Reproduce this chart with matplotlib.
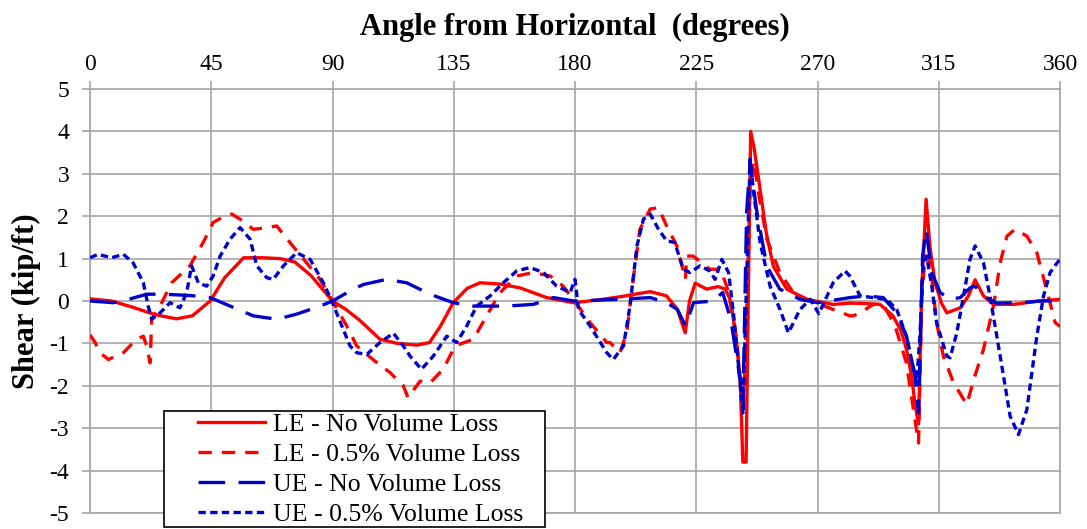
import matplotlib
matplotlib.use("Agg")
import matplotlib.pyplot as plt
from matplotlib.patches import Rectangle

plt.rcParams['font.family'] = ['Liberation Serif', 'DejaVu Serif']
plt.rcParams['axes.unicode_minus'] = False

# LE - No Volume Loss
le_nv_x = [0, 8, 16, 24, 32, 38, 44.6, 50, 57, 64, 70.6, 76, 82, 90, 95, 100, 107.6, 114, 121.3, 126, 130, 134.8,
           140, 144.8, 152, 159.6, 169.5, 179.4, 188, 196.7, 204, 208, 214, 218, 220.9, 222.5, 224.6, 228.9, 233.1,
           235.7, 237.5, 238.8, 240, 241.3, 242.3, 243.5, 244.4, 245.2, 246.5, 248.7, 251, 253.6, 258.6, 266, 275.8,
           282, 288, 293.2, 298, 301, 303.1, 305, 306.2, 307.5, 308.7, 310.3, 311.8, 313.6, 316, 318, 323, 326,
           328.5, 331.6, 335.3, 342.7, 352.6, 360]
le_nv_y = [0.05, 0.0, -0.15, -0.32, -0.42, -0.35, 0.0, 0.55, 1.02, 1.02, 1.0, 0.92, 0.6, 0.0, -0.2, -0.45, -0.9,
           -1.0, -1.04, -0.98, -0.6, -0.04, 0.3, 0.43, 0.4, 0.31, 0.08, -0.04, 0.02, 0.1, 0.18, 0.22, 0.12, -0.2,
           -0.75, 0.0, 0.42, 0.28, 0.34, 0.28, 0.05, -0.43, -1.0, -1.85, -3.8, -3.8, 0.5, 4.0, 3.6, 2.63, 1.6, 0.82,
           0.28, 0.04, -0.08, -0.05, -0.06, -0.08, -0.35, -0.7, -1.16, -1.8, -2.44, -2.9, 0.28, 2.4, 1.24, 0.44,
           -0.05, -0.28, -0.16, 0.12, 0.5, 0.12, -0.08, -0.08, 0.0, 0.04]

# LE - 0.5% Volume Loss
le_vl_x = [0, 1.9, 3.7, 6.8, 12.4, 17.3, 19.8, 21, 22.3, 22.9, 26, 30.3, 37.1, 42, 45.7, 49, 52.6, 55.7, 60.6, 65.6,
           69.3, 74.2, 80.4, 85.4, 90, 95.3, 99, 105, 111.4, 116.3, 118, 122.5, 126.2, 131.1, 135.5, 142.3, 147.2,
           152.2, 158.4, 164.5, 170.8, 175.6, 180.7, 185.6, 191.8, 193, 196.7, 199.2, 201.6, 204.1, 207.9, 211,
           214, 217.8, 221, 221.4, 223.8, 226.3, 230, 233.9, 236.3, 238.5, 240, 241.3, 242.5, 243.7, 245, 246.3,
           248.5, 251.2, 256, 261, 266, 275.8, 282, 283.3, 285.8, 290.7, 294.4, 298.8, 303, 305.6, 307.5, 308.7,
           310, 311.8, 314.2, 316.7, 320.5, 325.4, 328, 331.6, 335.3, 337.8, 340.3, 343.3, 347.7, 351.4, 355,
           358.2, 360]
le_vl_y = [-0.8, -0.98, -1.22, -1.38, -1.22, -0.9, -0.83, -1.06, -1.46, -0.43, -0.12, 0.43, 0.83, 1.38, 1.85,
           1.97, 2.05, 1.93, 1.69, 1.73, 1.77, 1.38, 0.9, 0.51, 0.0, -0.59, -1.06, -1.38, -1.69, -2.0, -2.28, -1.89,
           -1.93, -1.61, -1.06, -0.9, -0.35, 0.2, 0.59, 0.67, 0.59, 0.35, -0.08, -0.51, -0.98, -0.98, -1.22, -0.75,
           0.51, 1.69, 2.17, 2.2, 1.77, 1.3, 0.51, 1.06, 1.06, 0.94, 0.75, 0.75, 0.35, -0.3, -0.9, -1.85, -2.64,
           -0.28, 2.71, 3.3, 2.4, 1.46, 0.67, 0.2, 0.04, -0.2, -0.35, -0.35, -0.28, -0.08, -0.08, -0.59, -1.46,
           -2.56, -3.35, 0.12, 1.06, 0.9, -0.51, -1.3, -1.93, -2.44, -1.85, -1.14, -0.12, 0.9, 1.53, 1.69, 1.53,
           1.14, 0.28, -0.51, -0.6]

# UE - No Volume Loss
ue_nv_x = [0, 8.7, 14.9, 21, 27.2, 37.1, 44.6, 52, 60.6, 69.3, 76.7, 85.4, 90, 97.7, 101.5, 110, 117.5, 126.2,
           134.8, 142.3, 154.7, 164.5, 172, 179.4, 196.7, 208, 214, 218, 221, 224, 231.3, 234.8, 237.8, 241.3,
           242.3, 243.7, 245, 247.5, 251.2, 256, 263.5, 270, 282, 288.3, 294.4, 299.4, 303, 306.2, 307.5, 309,
           310.3, 312.4, 315.5, 319.2, 323, 326.6, 328.5, 331.6, 336.5, 345.2, 352.6, 360]
ue_nv_y = [0.0, -0.04, 0.05, 0.16, 0.16, 0.13, 0.08, -0.12, -0.35, -0.43, -0.31, -0.12, 0.0, 0.28, 0.39, 0.51,
           0.43, 0.16, -0.04, -0.12, -0.12, -0.08, 0.08, 0.0, 0.04, 0.08, -0.04, -0.2, -0.59, -0.04, 0.0, 0.2,
           -0.43, -1.85, -2.56, 2.1, 3.27, 2.1, 0.82, 0.28, 0.04, -0.04, 0.08, 0.12, 0.08, -0.28, -0.83, -1.77,
           -2.64, 1.06, 1.69, 0.67, 0.2, 0.04, 0.08, 0.31, 0.35, 0.12, -0.05, -0.04, 0.0, 0.0]

# UE - 0.5% Volume Loss
ue_vl_x = [0, 3, 8, 12.4, 16, 19.8, 21.6, 22.9, 26, 29.7, 33.4, 35.9, 37.7, 40.2, 43.3, 45.7, 48.3, 52, 55.7, 59.4,
           61.9, 65.6, 68, 71.8, 76.7, 81.7, 86.6, 90, 94, 96.5, 99, 102.7, 107.6, 112.6, 116.3, 118.8, 123, 127.4,
           132.4, 136.1, 139.8, 143.5, 148.5, 153.4, 158.4, 163.3, 168.3, 173.2, 178.2, 180, 181.3, 185.6, 191.8,
           194.2, 198, 200.4, 203, 205.4, 207.9, 211, 214, 217, 220.2, 222.7, 226.4, 230, 232, 234.5, 237, 238.8,
           240.7, 242.3, 243.7, 245, 246.3, 248.7, 252.4, 256.1, 259.2, 263.5, 267.3, 270.5, 275.8, 280.2, 282,
           285.8, 290.7, 295.7, 299.4, 303, 306.8, 308, 309.2, 310.5, 312.4, 314.2, 318, 319.2, 321.7, 324.2,
           326.6, 328.5, 331.6, 334, 337.8, 341.5, 344.6, 347.7, 351.4, 353.9, 356.3, 359.4, 360]
ue_vl_y = [1.02, 1.1, 1.02, 1.1, 0.9, 0.43, -0.12, -0.43, -0.28, -0.04, -0.16, 0.2, 0.83, 0.43, 0.35, 0.59,
           1.06, 1.46, 1.73, 1.46, 0.83, 0.55, 0.51, 0.83, 1.14, 0.98, 0.43, -0.04, -0.67, -1.06, -1.22, -1.26,
           -0.98, -0.76, -1.06, -1.3, -1.61, -1.3, -0.83, -0.98, -0.59, -0.12, 0.12, 0.43, 0.71, 0.79, 0.67, 0.35,
           0.2, 0.51, -0.2, -0.59, -1.22, -1.38, -1.06, -0.12, 1.3, 1.93, 2.05, 1.69, 1.42, 1.38, 0.75, 0.67, 0.83,
           0.71, 0.51, 0.98, 0.67, -0.28, -1.53, -2.64, 0.51, 3.35, 2.56, 1.38, 0.35, -0.2, -0.75, -0.2, 0.04,
           -0.3, 0.43, 0.71, 0.59, 0.12, 0.08, 0.04, -0.2, -0.83, -1.93, -0.83, 0.83, 1.06, 0.35, -0.51, -1.3,
           -1.34, -0.75, 0.12, 0.98, 1.3, 0.9, 0.12, -1.3, -2.72, -3.15, -2.56, -0.83, 0.12, 0.67, 0.94, 0.95]

series_labels = ["LE - No Volume Loss", "LE - 0.5% Volume Loss", "UE - No Volume Loss", "UE - 0.5% Volume Loss"]
x_ticks = [0, 45, 90, 135, 180, 225, 270, 315, 360]
y_ticks = [-5, -4, -3, -2, -1, 0, 1, 2, 3, 4, 5]

W, H = 1087, 529
fig = plt.figure(figsize=(W / 100, H / 100), dpi=100)
ax = fig.add_axes([90 / W, 1 - 513 / H, 970 / W, 424 / H])

red = '#ff0000'
blue = '#0000cc'
ax.plot(le_nv_x, le_nv_y, color=red, lw=2.4, label=series_labels[0], zorder=3)
ax.plot(le_vl_x, le_vl_y, color=red, lw=2.4, dashes=(4, 3), label=series_labels[1], zorder=3)
ax.plot(ue_nv_x, ue_nv_y, color=blue, lw=2.4, dashes=(8, 4), label=series_labels[2], zorder=3)
ax.plot(ue_vl_x, ue_vl_y, color=blue, lw=2.4, dashes=(2.2, 1.3), label=series_labels[3], zorder=3)

ax.set_xlim(0, 360)
ax.set_ylim(-5, 5)
ax.set_xticks(x_ticks)
ax.set_yticks(y_ticks)
ax.xaxis.tick_top()
ax.xaxis.set_label_position('top')
ax.grid(True, color='#a6a6a6', lw=1.2)
ax.set_axisbelow(True)
for s in ax.spines.values():
    s.set_color('#a6a6a6')
    s.set_linewidth(1.2)
ax.tick_params(axis='both', which='both', length=6, color='#a6a6a6', width=1.2, labelsize=17)
ax.tick_params(axis='x', top=True, bottom=False, pad=4)
ax.tick_params(axis='y', right=False, pad=9)

ax.set_xlabel('Angle from Horizontal  (degrees)', fontsize=22, fontweight='bold', labelpad=14)
ax.set_ylabel('Shear (kip/ft)', fontsize=22, fontweight='bold', labelpad=6)

# legend frame (Excel-style box)
fig.patches.append(Rectangle((164 / W, 1 - 527 / H), 381 / W, 116 / H, transform=fig.transFigure,
                             facecolor='white', edgecolor='black', lw=1.2, zorder=5))
leg = fig.legend(loc='upper left', bbox_to_anchor=(198 / W, 1 - 413 / H), fontsize=18.5,
                 handlelength=2.6, frameon=False, borderpad=0, labelspacing=0.27,
                 handletextpad=0.3, borderaxespad=0)
leg.set_zorder(6)

fig.savefig('out.png', dpi=100)
